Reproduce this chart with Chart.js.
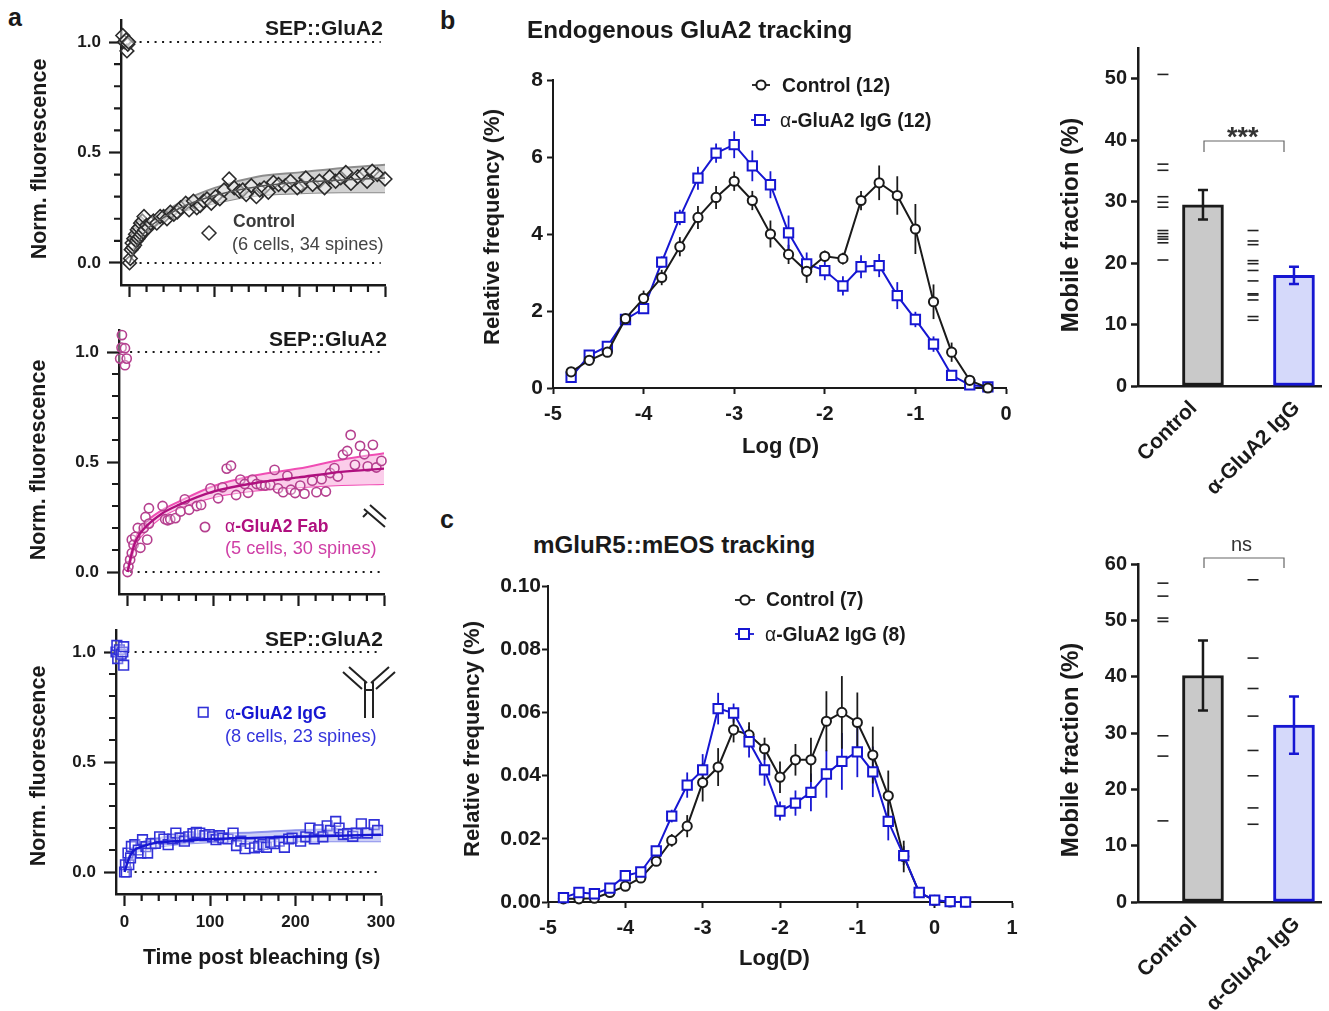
<!DOCTYPE html>
<html>
<head>
<meta charset="utf-8">
<title>GluA2 tracking</title>
<script src="https://cdn.jsdelivr.net/npm/chart.js@4/dist/chart.umd.js"></script>
<style>
  html, body { margin: 0; padding: 0; background: #fff; }
  body { position: relative; width: 1329px; height: 1011px; overflow: hidden; font-family: "Liberation Sans", Arial, sans-serif; }
  canvas { position: absolute; }
  .txt { position: absolute; white-space: nowrap; line-height: 1; }
  .txt i { font-style: normal; font-weight: 400; }
  svg { position: absolute; left: 0; top: 0; }
</style>
</head>
<body>
<svg id="deco" width="1329" height="1011"></svg>
<script>
// Panel a, FRAP recovery
const ctrlTime = [-8,-6,-4,-3,-2,-1,0,1,2,3,4,5,6,7,8,9,10,11,12,13,14,15,16,17,18,20,22,25,28,32,36,40,44,48,52,56,60,66,70,75,79,83,87,91,96,101,106,111,117,123,129,133,137,143,149,153,158,163,169,175,183,189,197,202,207,215,223,229,235,242,248,254,260,268,274,279,285,291,300];
const ctrlValue = [1.03,1.0,1.01,0.96,0.99,1.0,0.0,0.02,0.06,0.09,0.07,0.11,0.08,0.13,0.10,0.15,0.11,0.16,0.12,0.18,0.13,0.19,0.14,0.21,0.15,0.17,0.16,0.18,0.19,0.18,0.21,0.21,0.20,0.23,0.22,0.23,0.25,0.27,0.24,0.28,0.25,0.26,0.28,0.29,0.27,0.30,0.29,0.33,0.38,0.34,0.325,0.33,0.31,0.35,0.30,0.33,0.34,0.32,0.365,0.355,0.35,0.37,0.34,0.35,0.385,0.355,0.37,0.34,0.39,0.37,0.385,0.41,0.36,0.39,0.40,0.37,0.415,0.40,0.38];
const fabTime = [-8.6,-7,-6.6,-3,-3,-1,0,1,3,5,5,7,9,12,15,19,21,23,25,25,41,44,47,50,56,62,67,72,81,86,97,106,111,116,121,127,132,137,141,146,151,156,161,167,172,176,182,187,191,196,202,207,216,221,227,232,237,242,246,252,257,261,266,272,277,281,287,291,297];
const fabValue = [0.97,1.02,1.077,1.017,0.94,0.97,0.0,0.025,0.056,0.086,0.147,0.124,0.16,0.2,0.11,0.2,0.25,0.147,0.29,0.22,0.30,0.24,0.235,0.24,0.245,0.275,0.33,0.283,0.30,0.305,0.38,0.335,0.385,0.47,0.483,0.35,0.42,0.40,0.36,0.42,0.40,0.395,0.393,0.396,0.464,0.38,0.363,0.437,0.374,0.359,0.393,0.356,0.415,0.363,0.422,0.366,0.45,0.472,0.434,0.533,0.55,0.623,0.487,0.573,0.535,0.48,0.578,0.475,0.505];
const iggTime = [-10,-9,-8,-6,-4,-2,-1,-1,0,1,2,4,5,7,8,12,16,19,21,25,27,31,36,41,46,51,56,60,65,70,75,80,84,88,94,99,103,107,111,115,121,127,131,136,141,147,152,157,162,166,171,175,181,187,192,196,206,212,217,222,227,232,237,241,247,251,256,261,267,271,277,284,292,296];
const iggValue = [1.0,1.03,0.97,1.01,0.99,1.0,1.024,0.94,0.0,0.033,0.0,0.086,0.033,0.064,0.116,0.124,0.10,0.086,0.147,0.115,0.086,0.129,0.13,0.16,0.15,0.124,0.15,0.177,0.155,0.14,0.16,0.174,0.18,0.177,0.165,0.17,0.16,0.147,0.165,0.154,0.15,0.177,0.12,0.14,0.106,0.13,0.11,0.116,0.125,0.112,0.135,0.129,0.14,0.112,0.15,0.154,0.14,0.16,0.2,0.151,0.192,0.16,0.21,0.189,0.23,0.2,0.17,0.174,0.162,0.177,0.219,0.177,0.215,0.189];

// Fit curves, mean and confidence band
const fitTime = [0,5,10,20,40,60,100,150,200,250,300];
const ctrlMean = [0,0.05,0.09,0.15,0.205,0.25,0.305,0.345,0.365,0.375,0.385];
const ctrlUpper = [0,0.06,0.10,0.165,0.225,0.275,0.34,0.39,0.41,0.43,0.445];
const ctrlLower = [0,0.04,0.08,0.135,0.19,0.23,0.27,0.305,0.315,0.32,0.32];
const fabMean = [0,0.085,0.145,0.2,0.265,0.305,0.365,0.405,0.43,0.455,0.47];
const fabUpper = [0,0.10,0.16,0.22,0.28,0.32,0.39,0.44,0.47,0.51,0.54];
const fabLower = [0,0.07,0.13,0.18,0.25,0.29,0.34,0.37,0.385,0.395,0.40];
const iggMean = [0,0.06,0.095,0.115,0.135,0.14,0.15,0.155,0.16,0.165,0.17];
const iggUpper = [0,0.07,0.11,0.135,0.155,0.165,0.175,0.18,0.19,0.195,0.20];
const iggLower = [0,0.05,0.08,0.10,0.115,0.125,0.135,0.14,0.14,0.14,0.14];

const frapXTicks = [0,20,40,60,80,100,120,140,160,180,200,220,240,260,280,300];
const frapXMajor = [0,100,200,300];
const frapYTicks = [0,0.1,0.2,0.3,0.4,0.5,0.6,0.7,0.8,0.9,1.0];
const frapYMajor = [0,0.5,1];
const dottedTime = [3,295];

// Panel b, diffusion histogram
const logDb = [-4.8,-4.6,-4.4,-4.2,-4.0,-3.8,-3.6,-3.4,-3.2,-3.0,-2.8,-2.6,-2.4,-2.2,-2.0,-1.8,-1.6,-1.4,-1.2,-1.0,-0.8,-0.6,-0.4,-0.2];
const bControl = [0.42,0.72,0.93,1.8,2.33,2.87,3.67,4.43,4.95,5.37,4.87,4.0,3.47,3.03,3.42,3.36,4.87,5.33,5.0,4.13,2.24,0.93,0.2,0.0];
const bControlErr = [0.05,0.08,0.08,0.1,0.2,0.2,0.25,0.3,0.3,0.25,0.25,0.35,0.25,0.3,0.15,0.15,0.25,0.45,0.5,0.65,0.45,0.25,0.1,0.03];
const bIgG = [0.28,0.85,1.08,1.78,2.06,3.27,4.43,5.45,6.1,6.32,5.77,5.28,4.03,3.22,3.05,2.65,3.15,3.18,2.4,1.78,1.14,0.33,0.08,0.03];
const bIgGErr = [0.05,0.08,0.08,0.1,0.1,0.15,0.2,0.3,0.25,0.35,0.4,0.35,0.45,0.3,0.25,0.25,0.3,0.3,0.35,0.2,0.2,0.1,0.05,0.03];

// Panel c, diffusion histogram
const logDc = [-4.8,-4.6,-4.4,-4.2,-4.0,-3.8,-3.6,-3.4,-3.2,-3.0,-2.8,-2.6,-2.4,-2.2,-2.0,-1.8,-1.6,-1.4,-1.2,-1.0,-0.8,-0.6,-0.4,-0.2,0.0,0.2,0.4];
const cControl = [0.001,0.001,0.0012,0.003,0.005,0.0076,0.0129,0.0195,0.024,0.0378,0.0427,0.0545,0.0529,0.0485,0.0395,0.045,0.045,0.0572,0.06,0.0568,0.0465,0.0336,0.0144,0.003,0.0005,0,0];
const cControlErr = [0.0003,0.0003,0.0003,0.0005,0.0005,0.0007,0.0015,0.002,0.0035,0.006,0.006,0.004,0.004,0.0035,0.005,0.005,0.007,0.0095,0.0115,0.0095,0.009,0.008,0.005,0.001,0.0005,0,0];
const cIgG = [0.0014,0.003,0.0026,0.0044,0.0083,0.0095,0.0162,0.0272,0.037,0.0418,0.0612,0.0598,0.0507,0.0418,0.0288,0.0313,0.0347,0.0405,0.0445,0.0475,0.0412,0.0255,0.0147,0.003,0.0006,0.0001,0];
const cIgGErr = [0.0007,0.0007,0.0007,0.0007,0.001,0.001,0.0015,0.002,0.004,0.005,0.005,0.003,0.005,0.005,0.003,0.004,0.006,0.0075,0.009,0.008,0.008,0.006,0.003,0.001,0.0005,0,0];

// Mobile fraction bars
const barCategories = ['Control','α-GluA2 IgG'];
const bBarMeans = [29.5,18.0];
const bBarErrs = [2.4,1.4];
const bDashControl = [50.7,36.1,35.1,30.8,29.9,29.1,25.3,24.8,24.3,23.9,23.3,20.5];
const bDashIgG = [25.3,23.6,23.0,20.4,19.9,18.8,17.1,15.0,14.8,14.0,11.3,10.7];
const bBarTicks = [0,10,20,30,40,50];
const cBarMeans = [40.2,31.4];
const cBarErrs = [6.2,5.1];
const cDashControl = [56.6,54.3,50.4,49.8,29.5,25.9,14.4];
const cDashIgG = [57.2,43.3,37.9,33.0,26.9,22.4,16.7,13.8];
const cBarTicks = [0,10,20,30,40,50,60];

const BLACK = '#1a1a1a';
const BLUE = '#1616d2';
const MAGENTA = '#b0107f';

Chart.defaults.font.family = '"Liberation Sans", Arial, sans-serif';
Chart.defaults.color = BLACK;
Chart.defaults.animation = false;

// error bars are drawn behind the markers
const errorBars = {
  id: 'errorBars',
  beforeDatasetsDraw(chart) {
    const ctx = chart.ctx;
    const x = chart.scales.x, y = chart.scales.y;
    chart.data.datasets.forEach(ds => {
      if (!ds.errors || ds.errorCap) return;
      drawErrors(ctx, x, y, ds);
    });
  },
  // the bars carry theirs on top
  afterDatasetsDraw(chart) {
    const ctx = chart.ctx;
    const x = chart.scales.x, y = chart.scales.y;
    chart.data.datasets.forEach(ds => {
      if (!ds.errors || !ds.errorCap) return;
      drawErrors(ctx, x, y, ds);
    });
  }
};

function drawErrors(ctx, x, y, ds) {
  ctx.save();
  ctx.strokeStyle = ds.errorColor;
  ctx.lineWidth = ds.errorWidth || 1.8;
  ds.data.forEach((p, i) => {
    const px = x.getPixelForValue(p.x);
    const hi = y.getPixelForValue(p.y + ds.errors[i]);
    const lo = y.getPixelForValue(p.y - ds.errors[i]);
    ctx.beginPath();
    ctx.moveTo(px, hi);
    ctx.lineTo(px, lo);
    if (ds.errorCap) {
      ctx.moveTo(px - ds.errorCap, hi);
      ctx.lineTo(px + ds.errorCap, hi);
      ctx.moveTo(px - ds.errorCap, lo);
      ctx.lineTo(px + ds.errorCap, lo);
    }
    ctx.stroke();
  });
  ctx.restore();
}

// short unlabelled ticks of panel a (Chart.js has one tick length per scale)
const minorTicks = {
  id: 'minorTicks',
  afterDraw(chart) {
    const ctx = chart.ctx;
    const x = chart.scales.x, y = chart.scales.y;
    ctx.save();
    ctx.strokeStyle = BLACK;
    ctx.lineWidth = 2.2;
    ctx.beginPath();
    frapXTicks.filter(v => !frapXMajor.includes(v)).forEach(v => {
      const px = x.getPixelForValue(v);
      ctx.moveTo(px, x.top);
      ctx.lineTo(px, x.top + 7);
    });
    frapYTicks.filter(v => !frapYMajor.includes(v)).forEach(v => {
      const py = y.getPixelForValue(v);
      ctx.moveTo(y.right, py);
      ctx.lineTo(y.right - 7, py);
    });
    ctx.stroke();
    ctx.restore();
  }
};

// plot = page position of the chart area
function makeChart(plot, margin, config) {
  const c = document.createElement('canvas');
  const w = plot.r - plot.l + margin.l + margin.r;
  const h = plot.b - plot.t + margin.t + margin.b;
  c.width = w;
  c.height = h;
  c.style.left = (plot.l - margin.l) + 'px';
  c.style.top = (plot.t - margin.t) + 'px';
  document.body.appendChild(c);
  config.options.responsive = false;
  config.options.layout = { padding: { top: margin.t, right: margin.r, left: 0, bottom: 0 } };
  config.options.scales.x.afterFit = s => { s.height = margin.b; };
  config.options.scales.y.afterFit = s => { s.width = margin.l; };
  config.options.plugins = Object.assign({ legend: { display: false }, tooltip: { enabled: false } }, config.options.plugins);
  return new Chart(c, config);
}

function pairs(xs, ys) {
  return xs.map((x, i) => ({ x: x, y: ys[i] }));
}

function frapChart(plot, series, showX) {
  const curve = (values, color, width) => ({
    data: pairs(fitTime, values),
    borderColor: color,
    borderWidth: width,
    pointRadius: 0,
    cubicInterpolationMode: 'monotone',
    fill: false
  });
  const upper = curve(series.upper, series.edge, 2);
  upper.fill = '+1';
  upper.backgroundColor = series.band;
  const dotted = v => ({
    data: pairs(dottedTime, dottedTime.map(() => v)),
    borderColor: BLACK,
    borderWidth: 2,
    borderDash: [2, 5.5],
    pointRadius: 0
  });
  makeChart(plot, { l: 90, r: 40, t: 25, b: 60 }, {
    type: 'line',
    data: {
      datasets: [
        curve(series.mean, series.line, series.lineWidth),
        {
          data: pairs(series.time, series.value),
          showLine: false,
          clip: false,
          pointStyle: series.marker,
          pointRadius: series.radius,
          pointBorderWidth: 1.6,
          pointBorderColor: series.stroke,
          pointBackgroundColor: series.face
        },
        upper,
        curve(series.lower, series.edge, 2),
        dotted(1),
        dotted(0)
      ]
    },
    options: {
      scales: {
        x: {
          type: 'linear', min: -10, max: 300,
          afterBuildTicks: s => { s.ticks = frapXTicks.map(v => ({ value: v })); },
          border: { color: BLACK, width: 2.4 },
          grid: {
            drawOnChartArea: false, tickLength: 12, tickWidth: 2.2,
            tickColor: c => frapXMajor.includes(c.tick.value) ? BLACK : 'rgba(0,0,0,0)'
          },
          ticks: {
            autoSkip: false, maxRotation: 0, padding: 6,
            font: { size: 17, weight: 'bold' },
            callback: v => (showX && frapXMajor.includes(v)) ? String(v) : ''
          }
        },
        y: {
          min: -0.1, max: 1.1,
          afterBuildTicks: s => { s.ticks = frapYTicks.map(v => ({ value: v })); },
          border: { color: BLACK, width: 2.4 },
          grid: {
            drawOnChartArea: false, tickLength: 12, tickWidth: 2.2,
            tickColor: c => frapYMajor.includes(c.tick.value) ? BLACK : 'rgba(0,0,0,0)'
          },
          ticks: {
            autoSkip: false, padding: 8,
            font: { size: 17, weight: 'bold' },
            callback: v => frapYMajor.includes(v) ? v.toFixed(1) : ''
          }
        }
      }
    },
    plugins: [minorTicks]
  });
}

function histChart(plot, first, second, xMin, xMax, xStep, yMax, yStep, yDigits, yPad) {
  const line = s => ({
    data: pairs(s.x, s.y),
    errors: s.err,
    errorColor: s.color,
    borderColor: s.color,
    borderWidth: 2,
    clip: false,
    pointStyle: s.marker,
    pointRadius: s.radius,
    pointBorderWidth: 2,
    pointBorderColor: s.color,
    pointBackgroundColor: '#fff'
  });
  makeChart(plot, { l: 90, r: 40, t: 25, b: 60 }, {
    type: 'line',
    data: { datasets: [line(first), line(second)] },
    options: {
      scales: {
        x: {
          type: 'linear', min: xMin, max: xMax,
          border: { color: BLACK, width: 2 },
          grid: { drawOnChartArea: false, tickLength: 6, tickWidth: 2, tickColor: BLACK },
          ticks: { stepSize: xStep, padding: 8, maxRotation: 0, font: { size: 20, weight: 'bold' }, callback: v => String(v) }
        },
        y: {
          min: 0, max: yMax,
          border: { color: BLACK, width: 2 },
          grid: { drawOnChartArea: false, tickLength: 6, tickWidth: 2, tickColor: BLACK },
          ticks: { stepSize: yStep, padding: yPad, font: { size: 21, weight: 'bold' }, callback: v => v.toFixed(yDigits) }
        }
      }
    },
    plugins: [errorBars]
  });
}

// x is in units of bars: bars sit on 1 and 2, dash columns just left of them
const BAR_X = [1, 2];
const DASH_X = [0.56, 1.55];
const BAR_LABEL_X = [0.9, 2.03];

function barChart(plot, means, errs, dashCtrl, dashIgg, yMax, yTicks) {
  const dashes = (xPos, values) => ({
    type: 'scatter',
    data: values.map(v => ({ x: xPos, y: v })),
    pointStyle: 'line',
    pointRadius: 5.5,
    pointBorderWidth: 1.6,
    pointBorderColor: '#222'
  });
  const bar = i => ({
    type: 'bar',
    data: [{ x: BAR_X[i], y: means[i] }],
    grouped: false,
    errors: [errs[i]],
    errorColor: i ? BLUE : BLACK,
    errorCap: 5,
    errorWidth: 2.5,
    barThickness: 41,
    borderWidth: 3,
    borderSkipped: false,
    borderColor: i ? BLUE : BLACK,
    backgroundColor: i ? '#d5d9fa' : '#c9c9c9'
  });
  makeChart(plot, { l: 90, r: 30, t: 25, b: 130 }, {
    type: 'bar',
    data: { datasets: [dashes(DASH_X[0], dashCtrl), dashes(DASH_X[1], dashIgg), bar(0), bar(1)] },
    options: {
      scales: {
        x: {
          type: 'linear', min: 0.286, max: 2.297, offset: false,
          afterBuildTicks: s => { s.ticks = BAR_LABEL_X.map(v => ({ value: v })); },
          border: { color: BLACK, width: 2.5 },
          grid: { display: true, drawOnChartArea: false, drawTicks: false, offset: false },
          ticks: {
            autoSkip: false, minRotation: 45, maxRotation: 45, padding: 10,
            font: { size: 21, weight: 'bold' },
            callback: v => barCategories[BAR_LABEL_X.indexOf(v)]
          }
        },
        y: {
          min: 0, max: yMax,
          afterBuildTicks: s => { s.ticks = yTicks.map(v => ({ value: v })); },
          border: { color: BLACK, width: 2.5 },
          grid: { drawOnChartArea: false, tickLength: 7, tickWidth: 2.5, tickColor: BLACK },
          ticks: { autoSkip: false, padding: 4, font: { size: 20, weight: 'bold' } }
        }
      }
    },
    plugins: [errorBars]
  });
}

frapChart({ l: 120.5, r: 385, t: 20, b: 285 }, {
  time: ctrlTime, value: ctrlValue, mean: ctrlMean, upper: ctrlUpper, lower: ctrlLower,
  marker: 'rectRot', radius: 6.8, stroke: '#2b2b2b', face: 'rgba(255,255,255,0.45)',
  line: '#555', lineWidth: 1.5, edge: '#8d8d8d', band: '#d2d2d2'
}, false);
frapChart({ l: 118.7, r: 384, t: 330, b: 594.5 }, {
  time: fabTime, value: fabValue, mean: fabMean, upper: fabUpper, lower: fabLower,
  marker: 'circle', radius: 4.6, stroke: '#b5408f', face: 'rgba(255,255,255,0.35)',
  line: MAGENTA, lineWidth: 2.4, edge: '#f04db4', band: '#fbcdea'
}, false);
frapChart({ l: 116.4, r: 381.7, t: 629.5, b: 894.4 }, {
  time: iggTime, value: iggValue, mean: iggMean, upper: iggUpper, lower: iggLower,
  marker: 'rect', radius: 6.8, stroke: '#3030d8', face: 'rgba(255,255,255,0.35)',
  line: BLUE, lineWidth: 2.4, edge: '#8d92ec', band: '#cdd0f6'
}, true);

histChart({ l: 553, r: 1006, t: 79.5, b: 387.5 },
  { x: logDb, y: bControl, err: bControlErr, color: BLACK, marker: 'circle', radius: 4.6 },
  { x: logDb, y: bIgG, err: bIgGErr, color: BLUE, marker: 'rect', radius: 6.6 },
  -5, 0, 1, 8, 2, 0, 4);
histChart({ l: 548, r: 1012, t: 586, b: 902.3 },
  { x: logDc, y: cIgG, err: cIgGErr, color: BLUE, marker: 'rect', radius: 6.6 },
  { x: logDc, y: cControl, err: cControlErr, color: BLACK, marker: 'circle', radius: 4.6 },
  -5, 1, 1, 0.1, 0.02, 2, 1);

barChart({ l: 1138, r: 1321, t: 47.6, b: 385.7 }, bBarMeans, bBarErrs, bDashControl, bDashIgG, 55, bBarTicks);
barChart({ l: 1138, r: 1321, t: 564, b: 902.7 }, cBarMeans, cBarErrs, cDashControl, cDashIgG, 60, cBarTicks);

// page text
function txt(html, x, y, css) {
  const d = document.createElement('div');
  d.className = 'txt';
  d.innerHTML = html;
  d.style.cssText = 'left:' + x + 'px;top:' + y + 'px;transform:translateY(-50%);' + (css || '');
  document.body.appendChild(d);
}
function vtxt(html, x, y, size) {
  txt(html, x, y, 'font-weight:bold;color:' + BLACK + ';font-size:' + size + 'px;transform:translate(-50%,-50%) rotate(-90deg);');
}

const bold = size => 'font-weight:bold;color:' + BLACK + ';font-size:' + size + 'px;';
txt('a', 8, 17, bold(25));
txt('b', 440, 20, bold(25));
txt('c', 440, 519, bold(25));

txt('SEP::GluA2', 265, 27, bold(21));
txt('SEP::GluA2', 269, 338, bold(21));
txt('SEP::GluA2', 265, 638, bold(21));
vtxt('Norm. fluorescence', 40, 159, 21.5);
vtxt('Norm. fluorescence', 39, 460, 21.5);
vtxt('Norm. fluorescence', 39, 766, 21.5);
txt('Time post bleaching (s)', 143, 958, bold(21.3));

txt('Control', 233, 222, 'font-weight:bold;color:#3a3a3a;font-size:17.5px;');
txt('(6 cells, 34 spines)', 232, 244, 'color:#444;font-size:18.2px;');
txt('<i>α</i>-GluA2 Fab', 225, 527, 'font-weight:bold;color:' + MAGENTA + ';font-size:17.5px;');
txt('(5 cells, 30 spines)', 225, 548, 'color:#cf3fa6;font-size:18.2px;');
txt('<i>α</i>-GluA2 IgG', 225, 714, 'font-weight:bold;color:' + BLUE + ';font-size:17.5px;');
txt('(8 cells, 23 spines)', 225, 736, 'color:#3535dc;font-size:18.2px;');

txt('Endogenous GluA2 tracking', 527, 30, bold(24.2));
txt('mGluR5::mEOS tracking', 533, 545, bold(24.2));
vtxt('Relative frequency (%)', 492, 227, 22);
vtxt('Relative frequency (%)', 472, 739, 22);
txt('Log (D)', 742, 446, bold(22));
txt('Log(D)', 739, 958, bold(22));
txt('Control (12)', 782, 86, bold(19.3));
txt('<i>α</i>-GluA2 IgG (12)', 780, 121, bold(19.3));
txt('Control (7)', 766, 600, bold(19.3));
txt('<i>α</i>-GluA2 IgG (8)', 765, 635, bold(19.3));

vtxt('Mobile fraction (%)', 1070, 225, 24);
vtxt('Mobile fraction (%)', 1070, 750, 24);
txt('***', 1227, 137, 'font-weight:bold;color:#333;font-size:27px;');
txt('ns', 1231, 544, 'color:#333;font-size:20px;');

// legend glyphs, brackets and antibody icons
document.getElementById('deco').innerHTML = `
  <g fill="none" stroke-width="1.8">
    <path d="M202 233l7-7 7 7-7 7z" stroke="#2b2b2b" stroke-width="1.5"/>
    <circle cx="205" cy="527" r="4.6" stroke="#b5408f"/>
    <rect x="198.5" y="707.5" width="9.5" height="9.5" stroke="#3030d8" stroke-width="1.6"/>
    <path d="M752 85h18" stroke="${BLACK}"/><circle cx="761" cy="85" r="4.6" fill="#fff" stroke="${BLACK}" stroke-width="2"/>
    <path d="M751 120h19" stroke="${BLUE}"/><rect x="755" y="115" width="10" height="10" fill="#fff" stroke="${BLUE}" stroke-width="2"/>
    <path d="M735 600h20" stroke="${BLACK}"/><circle cx="745" cy="600" r="4.6" fill="#fff" stroke="${BLACK}" stroke-width="2"/>
    <path d="M735 634h19" stroke="${BLUE}"/><rect x="739" y="629" width="10" height="10" fill="#fff" stroke="${BLUE}" stroke-width="2"/>
    <path d="M1204 152v-11h80v11" stroke="#666" stroke-width="1.2"/>
    <path d="M1204 568v-10h80v10" stroke="#666" stroke-width="1.2"/>
    <path d="M364 509l21 18M370 505l16 14M363 517l4-4" stroke="#222" stroke-width="2"/>
    <path d="M343 672l19 17M349 667l18 16M395 672l-19 17M389 667l-18 16M365 682v36M373 682v36M365 690h8" stroke="#222" stroke-width="2"/>
  </g>`;
</script>
</body>
</html>
